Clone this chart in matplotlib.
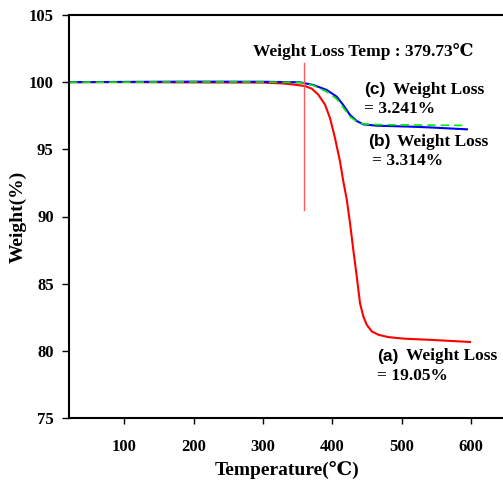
import matplotlib.pyplot as plt

# TGA data
temp_a = [20, 100, 200, 300, 330, 346.1, 360.5, 370.2, 379.7, 389.4, 396.6, 403.8, 411.0,
          415.8, 420.7, 425.5, 430.2, 435.2, 439.9, 444.7, 449.6, 456.8, 466.3, 480.7,
          504.8, 540.9, 598.6]
weight_a = [100.0, 100.0, 99.98, 99.97, 99.9, 99.81, 99.71, 99.52, 99.07, 98.33, 97.33,
            95.84, 94.11, 92.62, 91.3, 89.51, 87.53, 85.54, 83.55, 82.56, 81.94, 81.45,
            81.20, 81.02, 80.90, 80.82, 80.66]

temp_b = [20, 100, 200, 300, 353.3, 372.5, 391.9, 406.3, 415.8, 425.5, 435.2, 444.7,
          464.0, 512.1, 540.9, 594.3]
weight_b = [100.0, 100.02, 100.04, 100.03, 99.99, 99.79, 99.42, 98.92, 98.30, 97.56,
            97.11, 96.86, 96.76, 96.69, 96.63, 96.49]

temp_c = [20, 100, 200, 300, 353.3, 372.5, 391.9, 406.3, 415.8, 425.5, 435.2, 444.7,
          464.0, 512.1, 540.9, 594.3]
weight_c = [100.0, 100.0, 100.02, 100.01, 99.98, 99.75, 99.29, 98.75, 98.10, 97.43,
            97.06, 96.89, 96.84, 96.82, 96.80, 96.78]

loss_temp = 359
xticks = [100, 200, 300, 400, 500, 600]
yticks = [75, 80, 85, 90, 95, 100, 105]

serif = ['Liberation Serif', 'DejaVu Serif', 'Noto Sans CJK JP']
sans = ['Liberation Sans', 'DejaVu Sans']
plt.rcParams['font.family'] = serif
plt.rcParams['font.weight'] = 'bold'

fig = plt.figure(figsize=(5.03, 4.83), dpi=100)
ax = fig.add_axes([69/503, 65/483, 436.6/503, 403/483])

ax.plot(temp_a, weight_a, color='#ff0000', lw=1.5)
ax.plot(temp_b, weight_b, color='#0000ff', lw=1.5)
ax.plot(temp_c, weight_c, color='#00ee00', lw=1.2, ls=(0, (5, 3)))
ax.plot([loss_temp, loss_temp], [90.5, 101.45], color='#ff5a5a', lw=1)

ax.set_xlim(20, 650)
ax.set_ylim(75, 105)
ax.set_xticks(xticks)
ax.set_yticks(yticks)
ax.tick_params(axis='x', direction='out', length=4, width=1, pad=11, labelsize=12)
ax.tick_params(axis='y', direction='out', length=5, width=1, pad=6, labelsize=12)
for lab in ax.get_xticklabels() + ax.get_yticklabels():
    lab.set_fontweight('bold')
ax.spines['right'].set_visible(False)
for s in ['left', 'bottom', 'top']:
    ax.spines[s].set_linewidth(1.5)

ax.set_xlabel('Temperature(℃)', fontsize=14, fontweight='bold')
ax.set_ylabel('Weight(%)', fontsize=14, fontweight='bold')
ax.xaxis.set_label_coords(218/436.6, -43/403)
ax.yaxis.set_label_coords(-42/436.6, 0.5)

fs = 12.5
ax.text(285.5, 102.25, 'Weight Loss Temp : 379.73℃', fontsize=fs, fontweight='bold', va='center')


def loss_label(x, y, tag, value, dx=0):
    ax.text(x, y, tag, family=sans, fontsize=fs, fontweight='bold', va='center')
    ax.annotate('Weight Loss', (x, y), xytext=(21, 0), textcoords='offset points',
                fontsize=fs, fontweight='bold', va='center')
    ax.annotate('= ' + value, (x, y), xytext=(dx, -14), textcoords='offset points',
                fontsize=fs, fontweight='bold', va='center')


loss_label(445.7, 99.42, '(c)', '3.241%')
loss_label(451.5, 95.55, '(b)', '3.314%', dx=3)
loss_label(464.4, 79.61, '(a)', '19.05%')

fig.savefig('out.png', dpi=100)
